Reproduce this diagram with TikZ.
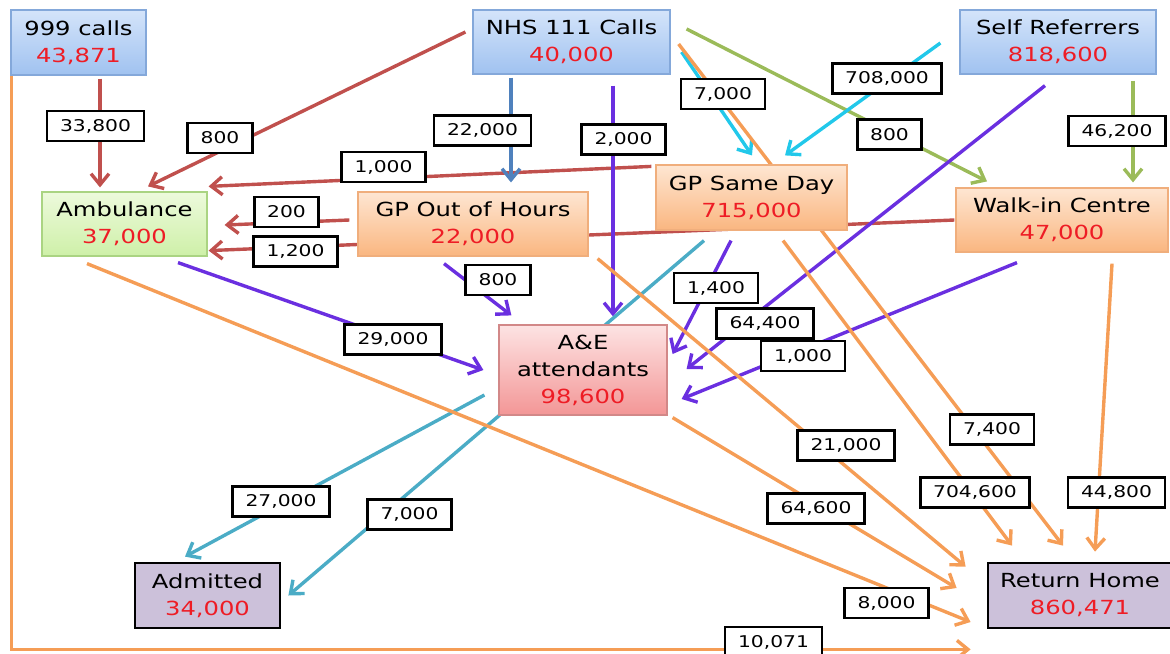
\documentclass[tikz,border=0pt]{standalone}
\usepackage{fontspec}
\setmainfont{DejaVu Sans}[FakeStretch=1.25]
\usepackage{tikz}
\usetikzlibrary{arrows.meta, backgrounds}
\definecolor{callTop}{RGB}{212, 228, 250}
\definecolor{callBot}{RGB}{160, 194, 240}
\definecolor{callEdge}{RGB}{132, 168, 218}
\definecolor{ambTop}{RGB}{237, 250, 220}
\definecolor{ambBot}{RGB}{206, 240, 168}
\definecolor{ambEdge}{RGB}{170, 212, 130}
\definecolor{gpTop}{RGB}{254, 230, 210}
\definecolor{gpBot}{RGB}{250, 182, 128}
\definecolor{gpEdge}{RGB}{240, 174, 124}
\definecolor{aeTop}{RGB}{253, 227, 227}
\definecolor{aeBot}{RGB}{243, 150, 150}
\definecolor{aeEdge}{RGB}{210, 136, 136}
\definecolor{outFill}{RGB}{204, 193, 218}
\definecolor{valRed}{RGB}{238, 28, 37}
\definecolor{flowRed}{RGB}{192, 80, 77}
\definecolor{flowBlue}{RGB}{79, 129, 189}
\definecolor{flowViolet}{RGB}{106, 47, 224}
\definecolor{flowCyan}{RGB}{34, 200, 234}
\definecolor{flowGreen}{RGB}{155, 187, 89}
\definecolor{flowTeal}{RGB}{75, 172, 198}
\definecolor{flowOrange}{RGB}{245, 157, 86}
\newcommand{\figval}[1]{\textcolor{valRed}{#1}}

\begin{document}
\begin{tikzpicture}[
    x=0.5pt, y=-0.5pt,
    box/.style={
        rectangle,
        align=center,
        inner sep=0pt,
        line width=0.6pt,
        font=\fontsize{9.7}{13.5}\selectfont
    },
    callbox/.style={box, draw=callEdge, top color=callTop, bottom color=callBot},
    ambbox/.style={box, draw=ambEdge, top color=ambTop, bottom color=ambBot},
    gpbox/.style={box, draw=gpEdge, top color=gpTop, bottom color=gpBot},
    aebox/.style={box, draw=aeEdge, top color=aeTop, bottom color=aeBot},
    outbox/.style={box, draw=black, line width=1.4pt, fill=outFill},
    lbl/.style={
        rectangle,
        draw=black,
        line width=1.4pt,
        fill=white,
        inner xsep=6.5pt,
        inner ysep=0pt,
        minimum height=15pt,
        font=\fontsize{8.1}{9}\selectfont
    },
    flow/.style={draw=#1, line width=1.7pt, -{Straight Barb[length=5.5pt,width=9pt]}}
]
    \useasboundingbox (0,0) rectangle (1170,653);

    % Sources
    \node[callbox, minimum width=67.5pt, minimum height=32.5pt] (c999) at (78.5,42.5) {999 calls\\\figval{43,871}};
    \node[callbox, minimum width=98.5pt, minimum height=32pt] (nhs) at (571.5,42) {NHS 111 Calls\\\figval{40,000}};
    \node[callbox, minimum width=98pt, minimum height=32pt] (self) at (1058,42) {Self Referrers\\\figval{818,600}};

    % Services
    \node[ambbox, minimum width=82.5pt, minimum height=32pt] (amb) at (124.5,224) {Ambulance\\\figval{37,000}};
    \node[gpbox, minimum width=115pt, minimum height=32pt] (gpooh) at (473,224) {GP Out of Hours\\\figval{22,000}};
    \node[gpbox, minimum width=95.5pt, minimum height=32.5pt] (gpsd) at (751.5,197.5) {GP Same Day\\\figval{715,000}};
    \node[gpbox, minimum width=106pt, minimum height=32pt] (wic) at (1062,220) {Walk-in Centre\\\figval{47,000}};
    \node[aebox, minimum width=84pt, minimum height=45pt] (ae) at (583,370) {A\&E\\attendants\\\figval{98,600}};

    % Outcomes
    \node[outbox, minimum width=72.5pt, minimum height=32.5pt] (adm) at (207.5,595.5) {Admitted\\\figval{34,000}};
    \node[outbox, minimum width=92pt, minimum height=32.5pt] (home) at (1080,595.5) {Return Home\\\figval{860,471}};

    % Flows (behind the boxes)
    \begin{scope}[on background layer]
        % into Ambulance
        \draw[flow=flowRed] ([shift={(21.5,3)}]c999.south) -- ([shift={(-24.5,-4)}]amb.north);
        \draw[flow=flowRed] ([shift={(-7,-10)}]nhs.west) -- ([shift={(23.5,-5)}]amb.north);
        \draw[flow=flowRed] ([shift={(-4,2)}]gpsd.north west) -- ([shift={(1,-5)}]amb.north east);
        \draw[flow=flowRed] ([shift={(-8,-4)}]gpooh.west) -- ([shift={(17,1)}]amb.east);
        \draw[flow=flowRed] ([shift={(-1,0)}]wic.west) -- ([shift={(1,-6)}]amb.south east);

        % NHS 111 onwards
        \draw[flow=flowBlue] ([shift={(-60.5,3)}]nhs.south) -- ([shift={(38,-9)}]gpooh.north);
        \draw[flow=flowCyan] ([shift={(11,10)}]nhs.east) -- ([shift={(0.5,-9)}]gpsd.north);
        \draw[flow=flowGreen] ([shift={(16,-13)}]nhs.east) -- ([shift={(-75,-6)}]wic.north);

        % Self Referrers onwards
        \draw[flow=flowCyan] ([shift={(-19,1)}]self.west) -- ([shift={(33.5,-9)}]gpsd.north);
        \draw[flow=flowGreen] ([shift={(75,6)}]self.south) -- ([shift={(71,-5)}]wic.north);

        % into A&E
        \draw[flow=flowViolet] ([shift={(41.5,11)}]nhs.south) -- ([shift={(30,-8)}]ae.north);
        \draw[flow=flowViolet] ([shift={(53.5,6)}]amb.south) -- ([shift={(-15,0)}]ae.west);
        \draw[flow=flowViolet] ([shift={(-29,7)}]gpooh.south) -- ([shift={(13,-9)}]ae.north west);
        \draw[flow=flowViolet] ([shift={(-20.5,10)}]gpsd.south) -- ([shift={(5,-16)}]ae.east);
        \draw[flow=flowViolet] ([shift={(-13,11)}]self.south) -- ([shift={(19,-1)}]ae.east);
        \draw[flow=flowViolet] ([shift={(-45,10)}]wic.south) -- ([shift={(14,29)}]ae.east);

        % into Admitted
        \draw[flow=flowTeal] ([shift={(-14,25)}]ae.west) -- ([shift={(-22.5,-5)}]adm.north);
        \draw[flow=flowTeal] ([shift={(-47.5,10)}]gpsd.south) -- ([shift={(7,0)}]adm.east);

        % into Return Home
        \draw[flow=flowOrange] ([shift={(1,0)}]c999.south west) |- ([shift={(-16,20)}]home.south west);
        \draw[flow=flowOrange] ([shift={(-37.5,7)}]amb.south) -- ([shift={(-16,26.5)}]home.west);
        \draw[flow=flowOrange] ([shift={(5,2)}]ae.south east) -- ([shift={(-30,-7.5)}]home.west);
        \draw[flow=flowOrange] ([shift={(9,2)}]gpooh.south east) -- ([shift={(-21,5)}]home.north west);
        \draw[flow=flowOrange] ([shift={(8,2)}]nhs.east) -- ([shift={(-17,-16)}]home.north);
        \draw[flow=flowOrange] ([shift={(31.5,10)}]gpsd.south) -- ([shift={(-68,-16)}]home.north);
        \draw[flow=flowOrange] ([shift={(50,11)}]wic.south) -- ([shift={(15,-10)}]home.north);
    \end{scope}

    % Flow labels
    \node[lbl] (l999amb) at (95.5,126) {33,800};
    \node[lbl] (lnhsamb) at (220,138) {800};
    \node[lbl] (lsdamb) at (383.5,167) {1,000};
    \node[lbl] (lohamb) at (286.5,212) {200};
    \node[lbl] (lwicamb) at (295.5,251.5) {1,200};
    \node[lbl] (lnhsoh) at (482.5,130.5) {22,000};
    \node[lbl] (lnhsae) at (623.5,139.5) {2,000};
    \node[lbl] (lnhssd) at (723,94) {7,000};
    \node[lbl] (lselfsd) at (887,78.5) {708,000};
    \node[lbl] (lnhswic) at (889.5,134.5) {800};
    \node[lbl] (lselfwic) at (1117,131) {46,200};
    \node[lbl] (lohae) at (498,280) {800};
    \node[lbl] (lambae) at (393,339.5) {29,000};
    \node[lbl] (lsdae) at (716,288) {1,400};
    \node[lbl] (lselfae) at (765,323.5) {64,400};
    \node[lbl] (lwicae) at (803,356) {1,000};
    \node[lbl] (laeadm) at (281,501.5) {27,000};
    \node[lbl] (lsdadm) at (409.5,514.5) {7,000};
    \node[lbl] (lohhome) at (846,445.5) {21,000};
    \node[lbl] (lnhshome) at (992,429.5) {7,400};
    \node[lbl] (lsdhome) at (975,492.5) {704,600};
    \node[lbl] (lwichome) at (1116.5,492.5) {44,800};
    \node[lbl] (laehome) at (816,508.5) {64,600};
    \node[lbl] (lambhome) at (886.5,603) {8,000};
    \node[lbl] (l999home) at (773.5,642) {10,071};

\end{tikzpicture}
\end{document}
